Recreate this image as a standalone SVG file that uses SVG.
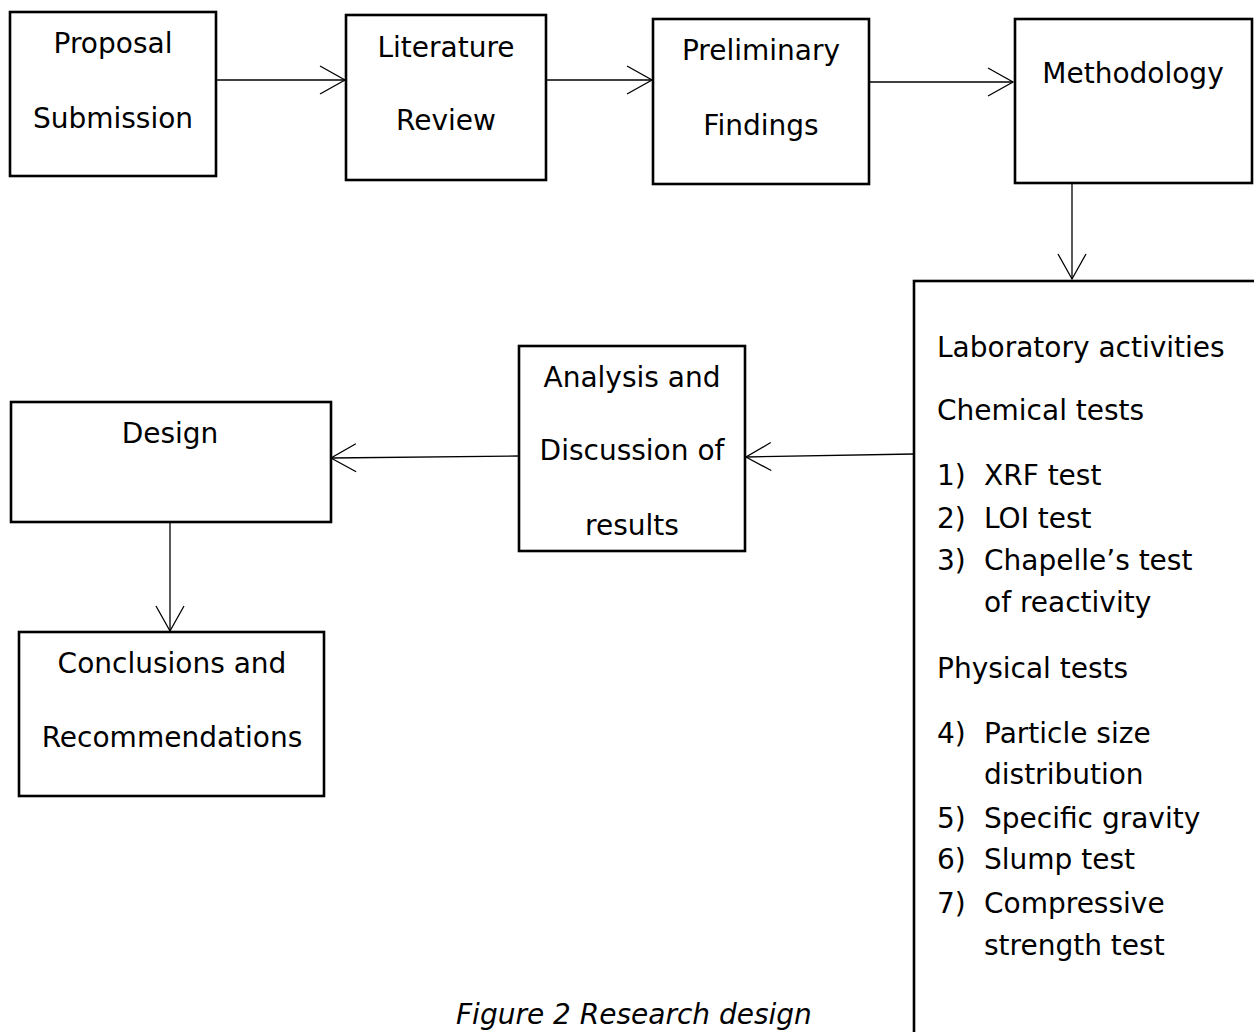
<svg xmlns="http://www.w3.org/2000/svg" width="1254" height="1032" viewBox="0 0 1254 1032">
<style>
.box{fill:#fff;stroke:#000;stroke-width:2.6}
.t{font-family:"DejaVu Sans",Verdana,sans-serif;font-size:28px;fill:#000}
.c{text-anchor:middle}
.conn{stroke:#000;stroke-width:1.3;fill:none}
.cap{font-family:"DejaVu Sans",Verdana,sans-serif;font-size:28px;font-style:italic;fill:#000}
</style>
<defs>
<marker id="arr" markerUnits="userSpaceOnUse" markerWidth="40" markerHeight="40" viewBox="-30 -20 40 40" refX="0" refY="0" orient="auto">
<path d="M-25,-14 L0,0 L-25,14" fill="none" stroke="#000" stroke-width="1.3"/>
</marker>
</defs>
<rect width="1254" height="1032" fill="#fff"/>
<g id="connectors">
<line class="conn" x1="216" y1="80" x2="345" y2="80" marker-end="url(#arr)"/>
<line class="conn" x1="540" y1="80" x2="652" y2="80" marker-end="url(#arr)"/>
<line class="conn" x1="870" y1="82" x2="1013" y2="82" marker-end="url(#arr)"/>
<line class="conn" x1="1072" y1="184" x2="1072" y2="279" marker-end="url(#arr)"/>
<line class="conn" x1="914" y1="454" x2="746" y2="457" marker-end="url(#arr)"/>
<line class="conn" x1="519" y1="456" x2="331" y2="458" marker-end="url(#arr)"/>
<line class="conn" x1="170" y1="522" x2="170" y2="631" marker-end="url(#arr)"/>
</g>
<g id="proposal">
<rect class="box" x="10" y="12" width="206" height="164"/>
<text class="t c" x="113" y="53">Proposal</text>
<text class="t c" x="113" y="128">Submission</text>
</g>
<g id="literature">
<rect class="box" x="346" y="15" width="200" height="165"/>
<text class="t c" x="446" y="57">Literature</text>
<text class="t c" x="446" y="130">Review</text>
</g>
<g id="preliminary">
<rect class="box" x="653" y="19" width="216" height="165"/>
<text class="t c" x="761" y="60">Preliminary</text>
<text class="t c" x="761" y="135">Findings</text>
</g>
<g id="methodology">
<rect class="box" x="1015" y="19" width="237" height="164"/>
<text class="t c" x="1133" y="83">Methodology</text>
</g>
<g id="laboratory">
<rect class="box" x="914" y="281" width="360" height="780"/>
<text class="t" x="937" y="357">Laboratory activities</text>
<text class="t" x="937" y="420">Chemical tests</text>
<text class="t" x="937" y="485">1)</text><text class="t" x="984" y="485">XRF test</text>
<text class="t" x="937" y="528">2)</text><text class="t" x="984" y="528">LOI test</text>
<text class="t" x="937" y="570">3)</text><text class="t" x="984" y="570">Chapelle’s test</text>
<text class="t" x="984" y="612">of reactivity</text>
<text class="t" x="937" y="678">Physical tests</text>
<text class="t" x="937" y="743">4)</text><text class="t" x="984" y="743">Particle size</text>
<text class="t" x="984" y="784">distribution</text>
<text class="t" x="937" y="828">5)</text><text class="t" x="984" y="828">Specific gravity</text>
<text class="t" x="937" y="869">6)</text><text class="t" x="984" y="869">Slump test</text>
<text class="t" x="937" y="913">7)</text><text class="t" x="984" y="913">Compressive</text>
<text class="t" x="984" y="955">strength test</text>
</g>
<g id="analysis">
<rect class="box" x="519" y="346" width="226" height="205"/>
<text class="t c" x="632" y="387">Analysis and</text>
<text class="t c" x="632" y="460">Discussion of</text>
<text class="t c" x="632" y="535">results</text>
</g>
<g id="design">
<rect class="box" x="11" y="402" width="320" height="120"/>
<text class="t c" x="170" y="443">Design</text>
</g>
<g id="conclusions">
<rect class="box" x="19" y="632" width="305" height="164"/>
<text class="t c" x="172" y="673">Conclusions and</text>
<text class="t c" x="172" y="747">Recommendations</text>
</g>
<text class="cap" x="456" y="1024">Figure 2 Research design</text>
</svg>
